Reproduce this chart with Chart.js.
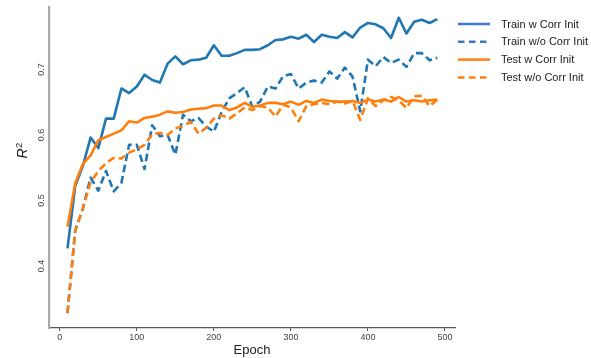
<!DOCTYPE html>
<html>
<head>
<meta charset="utf-8">
<script src="https://cdn.jsdelivr.net/npm/chart.js@4/dist/chart.umd.min.js"></script>
<style>
  html, body { margin: 0; padding: 0; background: #fff; }
  #wrap { width: 591px; height: 358px; position: relative; }
</style>
</head>
<body>
<div id="wrap"><canvas id="c" width="591" height="358"></canvas></div>
<script>
// Training epochs at which R² was evaluated
const epochs = [10, 20, 30, 40, 50, 60, 70, 80, 90, 100,
  110, 120, 130, 140, 150, 160, 170, 180, 190, 200,
  210, 220, 230, 240, 250, 260, 270, 280, 290, 300,
  310, 320, 330, 340, 350, 360, 370, 380, 390, 400,
  410, 420, 430, 440, 450, 460, 470, 480, 490];

// R² on the training set, with correlation-based initialisation
const trainWithCorr = [0.427, 0.522, 0.553, 0.596, 0.580, 0.625, 0.625, 0.671, 0.664, 0.674,
  0.692, 0.684, 0.680, 0.709, 0.720, 0.708, 0.714, 0.715, 0.718, 0.737,
  0.721, 0.721, 0.725, 0.730, 0.730, 0.731, 0.737, 0.745, 0.746, 0.750,
  0.747, 0.753, 0.742, 0.753, 0.750, 0.748, 0.757, 0.749, 0.764, 0.771,
  0.769, 0.763, 0.748, 0.779, 0.755, 0.773, 0.776, 0.771, 0.777];

// R² on the training set, default initialisation
const trainWithoutCorr = [0.328, 0.454, 0.488, 0.535, 0.515, 0.545, 0.514, 0.527, 0.585, 0.585,
  0.548, 0.615, 0.598, 0.600, 0.570, 0.631, 0.621, 0.626, 0.613, 0.605,
  0.635, 0.656, 0.664, 0.673, 0.643, 0.651, 0.674, 0.671, 0.690, 0.693,
  0.671, 0.680, 0.683, 0.680, 0.697, 0.686, 0.703, 0.689, 0.636, 0.715,
  0.705, 0.719, 0.710, 0.715, 0.704, 0.725, 0.725, 0.714, 0.718];

// R² on the test set, with correlation-based initialisation
const testWithCorr = [0.460, 0.526, 0.556, 0.569, 0.592, 0.597, 0.602, 0.607, 0.621, 0.619,
  0.626, 0.628, 0.631, 0.636, 0.634, 0.635, 0.639, 0.640, 0.641, 0.645,
  0.645, 0.638, 0.642, 0.649, 0.643, 0.645, 0.649, 0.649, 0.647, 0.651,
  0.646, 0.652, 0.649, 0.654, 0.652, 0.651, 0.651, 0.652, 0.649, 0.654,
  0.651, 0.654, 0.651, 0.658, 0.651, 0.653, 0.651, 0.653, 0.654];

// R² on the test set, default initialisation
const testWithoutCorr = [0.328, 0.454, 0.488, 0.528, 0.545, 0.557, 0.565, 0.564, 0.573, 0.578,
  0.585, 0.601, 0.603, 0.600, 0.610, 0.614, 0.620, 0.602, 0.611, 0.625,
  0.630, 0.625, 0.633, 0.642, 0.638, 0.644, 0.642, 0.628, 0.646, 0.642,
  0.621, 0.644, 0.647, 0.649, 0.647, 0.651, 0.648, 0.652, 0.623, 0.656,
  0.644, 0.653, 0.658, 0.653, 0.641, 0.659, 0.660, 0.644, 0.654];

const seriesLabels = ['Train w Corr Init', 'Train w/o Corr Init', 'Test w Corr Init', 'Test w/o Corr Init'];
const xTickValues = [0, 100, 200, 300, 400, 500];
const yTickValues = [0.4, 0.5, 0.6, 0.7];

const BLUE = '#1f77b4';
const ORANGE = '#ff7f0e';
const DASH = [7.5, 4];
const FONT = '"Liberation Sans", Arial, Helvetica, sans-serif';

function pts(values) {
  return values.map((v, i) => ({ x: epochs[i], y: v }));
}

const datasets = [
  { label: seriesLabels[0], data: pts(trainWithCorr), borderColor: BLUE, borderDash: [], order: 4, legendColor: '#3f78cc' },
  { label: seriesLabels[1], data: pts(trainWithoutCorr), borderColor: BLUE, borderDash: DASH, order: 3, legendColor: '#3f78cc' },
  { label: seriesLabels[2], data: pts(testWithCorr), borderColor: ORANGE, borderDash: [], order: 2, legendColor: ORANGE },
  { label: seriesLabels[3], data: pts(testWithoutCorr), borderColor: ORANGE, borderDash: DASH, order: 1, legendColor: ORANGE }
].map(d => Object.assign({
  borderWidth: 2.6,
  pointRadius: 0,
  tension: 0,
  fill: false,
  borderCapStyle: 'butt',
  borderJoinStyle: 'round'
}, d));

// Legend on the right: line sample + label per series
const sideLegend = {
  id: 'sideLegend',
  afterDraw(chart) {
    const ctx = chart.ctx;
    const rows = [24, 41.8, 59.6, 77.4];
    ctx.save();
    chart.data.datasets.forEach((ds, i) => {
      const y = rows[i];
      ctx.beginPath();
      ctx.setLineDash(ds.borderDash.length ? [6.5, 4.5] : []);
      ctx.lineWidth = 2.5;
      ctx.strokeStyle = ds.legendColor;
      ctx.moveTo(458, y);
      ctx.lineTo(490, y);
      ctx.stroke();
      ctx.setLineDash([]);
      ctx.fillStyle = '#222';
      ctx.font = '11px ' + FONT;
      ctx.textBaseline = 'middle';
      ctx.textAlign = 'left';
      ctx.fillText(ds.label, 501, y + 0.5);
    });
    ctx.restore();
  }
};

// Y-axis title: italic R with superscript 2
const yTitle = {
  id: 'yTitle',
  afterDraw(chart) {
    const ctx = chart.ctx;
    ctx.save();
    ctx.translate(27, 158.5);
    ctx.rotate(-Math.PI / 2);
    ctx.fillStyle = '#222';
    ctx.textBaseline = 'alphabetic';
    ctx.textAlign = 'left';
    ctx.font = 'italic 14px ' + FONT;
    ctx.fillText('R', 0, 0);
    const w = ctx.measureText('R').width;
    ctx.font = '9.5px ' + FONT;
    ctx.fillText('2', w + 0.5, -5);
    ctx.restore();
  }
};

new Chart(document.getElementById('c'), {
  type: 'line',
  data: { datasets },
  options: {
    responsive: false,
    animation: false,
    devicePixelRatio: 1,
    layout: { padding: { top: 7, right: 136, bottom: 0, left: 0 } },
    plugins: { legend: { display: false }, tooltip: { enabled: false } },
    scales: {
      x: {
        type: 'linear',
        min: -14,
        max: 513,
        afterBuildTicks: s => { s.ticks = xTickValues.map(v => ({ value: v })); },
        afterFit: s => { s.height = 30; },
        grid: { display: true, drawOnChartArea: false, drawTicks: true, tickLength: 3, color: '#555', lineWidth: 1 },
        border: { display: true, color: '#555', width: 1.2 },
        ticks: { color: '#444', font: { family: FONT, size: 9 }, padding: 1, maxRotation: 0 },
        title: { display: true, text: 'Epoch', color: '#222', font: { family: FONT, size: 13 }, padding: { top: 0, bottom: 0 } }
      },
      y: {
        type: 'linear',
        min: 0.3053,
        max: 0.7954,
        afterBuildTicks: s => { s.ticks = yTickValues.map(v => ({ value: v })); },
        afterFit: s => { s.width = 49; },
        grid: { display: false },
        border: { display: true, color: '#a9a9a9', width: 2.2 },
        ticks: {
          color: '#444',
          font: { family: FONT, size: 9 },
          minRotation: 90,
          maxRotation: 90,
          crossAlign: 'center',
          padding: -7,
          callback: v => v.toFixed(1)
        }
      }
    }
  },
  plugins: [sideLegend, yTitle]
});
</script>
</body>
</html>
